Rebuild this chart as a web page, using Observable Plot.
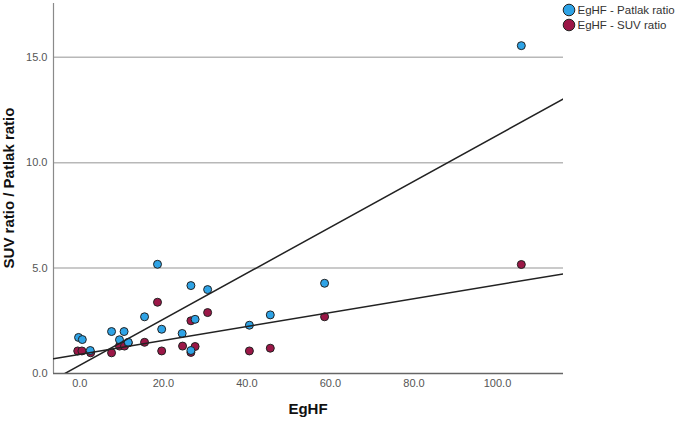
<!DOCTYPE html>
<html>
<head>
<meta charset="utf-8">
<script src="https://cdn.jsdelivr.net/npm/d3@7"></script>
<script src="https://cdn.jsdelivr.net/npm/@observablehq/plot@0.6"></script>
<style>
  body { margin: 0; background: #fff; font-family: "Liberation Sans", Arial, sans-serif; }
  #chart { position: relative; width: 677px; height: 421px; }
</style>
</head>
<body>
<div id="chart"></div>
<script>
// Series labels and fill colours
const seriesNames = ["EgHF - Patlak ratio", "EgHF - SUV ratio"];
const seriesColors = ["#2ea3e6", "#9b1747"];

// EgHF vs Patlak ratio
const eghfPatlak = [-0.3, 0.6, 2.5, 7.6, 9.5, 10.6, 11.6, 15.5, 18.6, 19.6, 24.5, 26.6, 26.6, 27.6, 30.6, 40.6, 45.6, 58.6, 105.7];
const patlakRatio = [1.71, 1.61, 1.09, 1.99, 1.60, 1.99, 1.48, 2.69, 5.18, 2.10, 1.90, 4.17, 1.09, 2.57, 3.98, 2.29, 2.78, 4.28, 15.55];

// EgHF vs SUV ratio
const eghfSuv = [-0.5, 0.5, 2.6, 7.6, 9.5, 10.7, 11.6, 15.5, 18.6, 19.6, 24.6, 26.6, 26.6, 27.6, 30.6, 40.6, 45.6, 58.6, 105.7];
const suvRatio = [1.07, 1.07, 0.98, 0.98, 1.30, 1.30, 1.45, 1.48, 3.38, 1.07, 1.30, 2.50, 1.00, 1.28, 2.89, 1.07, 1.20, 2.69, 5.17];

// Axes
const xTicks = [0, 20, 40, 60, 80, 100];
const yTicks = [0, 5, 10, 15];
const xDomain = [-6.3, 115.8];
const yDomain = [0, 17.55];
const xTitle = "EgHF";
const yTitle = "SUV ratio / Patlak ratio";

// Ordinary least squares fit, evaluated across the x domain
function fitLine(xs, ys) {
  const mx = d3.mean(xs), my = d3.mean(ys);
  let sxy = 0, sxx = 0;
  xs.forEach((x, i) => { sxy += (x - mx) * (ys[i] - my); sxx += (x - mx) ** 2; });
  const b = sxy / sxx, a = my - b * mx;
  return xDomain.map(x => ({x, y: a + b * x}));
}

const patlakData = eghfPatlak.map((x, i) => ({x, y: patlakRatio[i]}));
const suvData = eghfSuv.map((x, i) => ({x, y: suvRatio[i]}));
const fmt = d3.format(".1f");

const W = 677, H = 421, mL = 53, mR = 114, mT = 3, mB = 48;

const chart = Plot.plot({
  width: W, height: H,
  marginLeft: mL, marginRight: mR, marginTop: mT, marginBottom: mB,
  style: {fontFamily: "'Liberation Sans', Arial, sans-serif", fontSize: "11px", color: "#555", background: "#fff"},
  x: {domain: xDomain, label: null},
  y: {domain: yDomain, label: null},
  marks: [
    Plot.gridY(yTicks.filter(d => d > 0), {stroke: "#b8b8b8", strokeOpacity: 1, strokeWidth: 1.5}),
    Plot.axisX({ticks: xTicks, tickSize: 0, tickPadding: 6, tickFormat: fmt, label: null}),
    Plot.axisY({ticks: yTicks, tickSize: 0, tickPadding: 6, tickFormat: fmt, label: null}),
    Plot.ruleX([xDomain[0]], {stroke: "#8a8a8a", strokeWidth: 1.2}),
    Plot.ruleY([0], {stroke: "#666", strokeWidth: 1.5}),
    Plot.dot(suvData, {x: "x", y: "y", r: 4, fill: seriesColors[1], stroke: "#222", strokeWidth: 1}),
    Plot.dot(patlakData, {x: "x", y: "y", r: 4, fill: seriesColors[0], stroke: "#222", strokeWidth: 1}),
    Plot.line(fitLine(eghfSuv, suvRatio), {x: "x", y: "y", stroke: "#222", strokeWidth: 1.5, clip: true}),
    Plot.line(fitLine(eghfPatlak, patlakRatio), {x: "x", y: "y", stroke: "#222", strokeWidth: 1.5, clip: true})
  ]
});

document.getElementById("chart").append(chart);

// Axis titles and legend
const svg = d3.select(chart);
const cx = mL + (W - mL - mR) / 2;
const cy = mT + (H - mT - mB) / 2;

svg.append("text")
  .attr("x", cx).attr("y", 414)
  .attr("text-anchor", "middle")
  .attr("fill", "#111")
  .style("font", "bold 15px 'Liberation Sans', Arial, sans-serif")
  .text(xTitle);

svg.append("text")
  .attr("transform", `translate(14,${cy}) rotate(-90)`)
  .attr("text-anchor", "middle")
  .attr("fill", "#111")
  .style("font", "bold 15px 'Liberation Sans', Arial, sans-serif")
  .text(yTitle);

const legend = svg.append("g").attr("transform", `translate(${W - mR + 6},10)`);
seriesNames.forEach((name, i) => {
  const g = legend.append("g").attr("transform", `translate(0,${i * 15})`);
  g.append("circle").attr("r", 5.8).attr("fill", seriesColors[i]).attr("stroke", "#222").attr("stroke-width", 1);
  g.append("text").attr("x", 8.5).attr("dy", "0.35em")
    .attr("text-anchor", "start")
    .attr("fill", "#333")
    .style("font", "11.5px 'Liberation Sans', Arial, sans-serif")
    .text(name);
});
</script>
</body>
</html>
